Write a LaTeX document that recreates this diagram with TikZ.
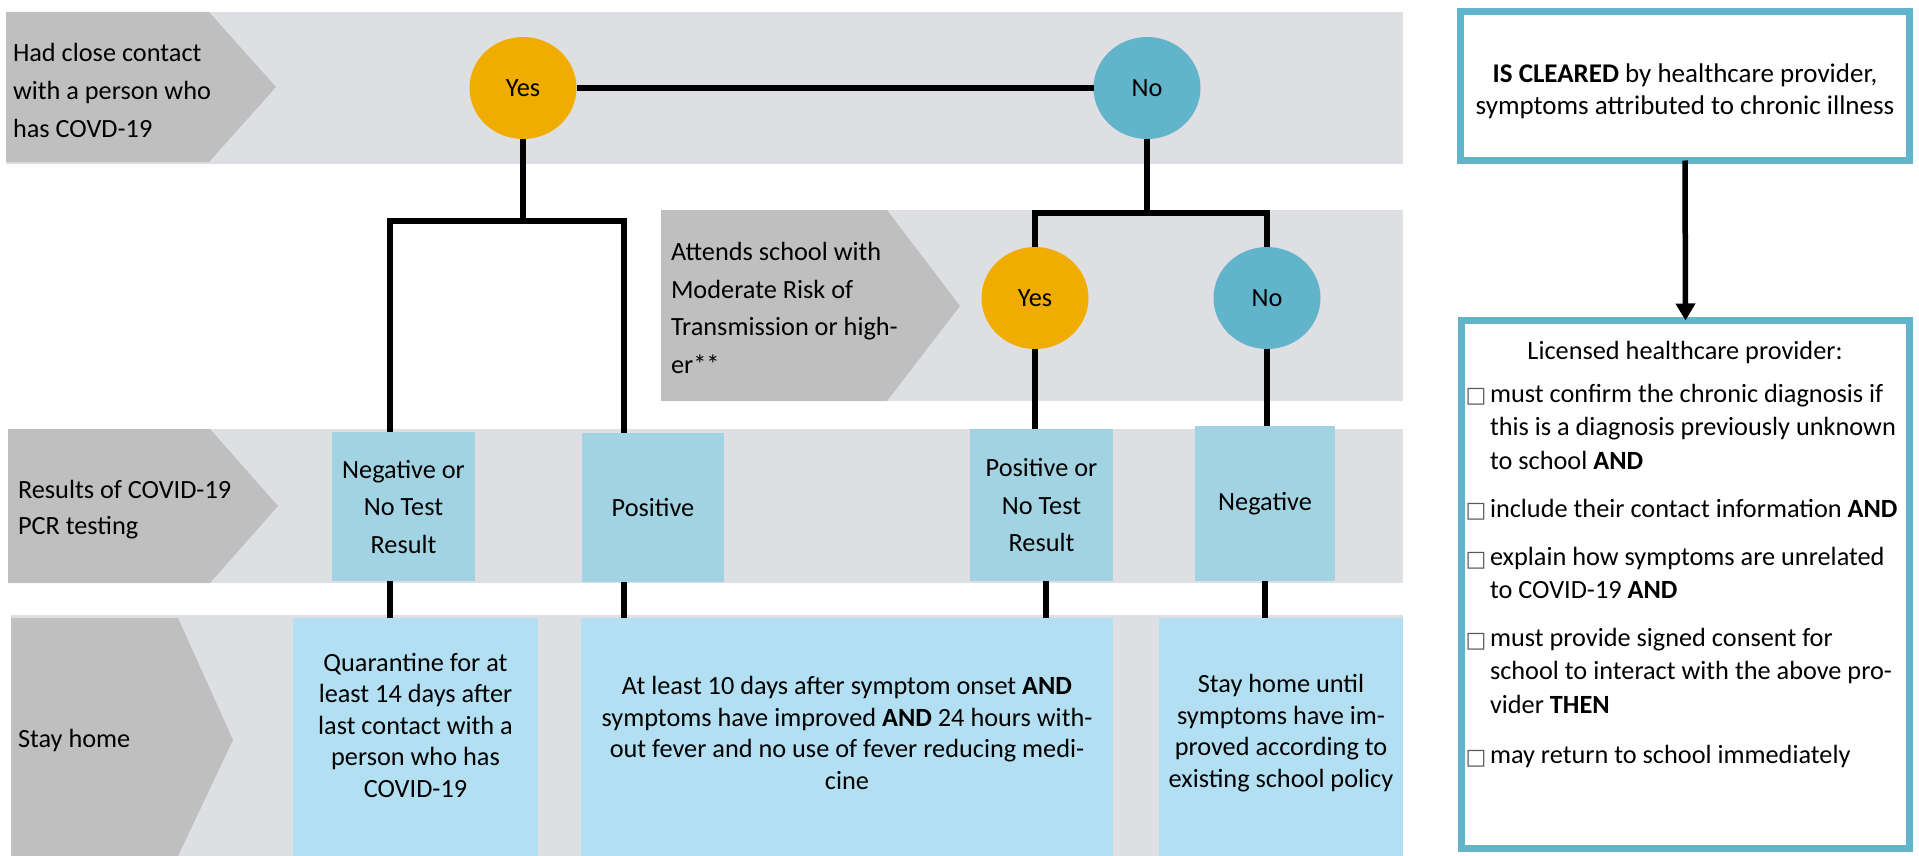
\documentclass[tikz,border=0pt]{standalone}
\usepackage{fontspec}
\setmainfont{Carlito}
\newfontfamily\symfont{DejaVu Sans}
\usetikzlibrary{shapes.geometric,arrows.meta}
\definecolor{bandgray}{HTML}{DEDFE3}
\definecolor{labgray}{HTML}{BFBFBF}
\definecolor{yesor}{HTML}{F0AD00}
\definecolor{noteal}{HTML}{62B4CB}
\definecolor{resblue}{HTML}{A2D3E2}
\definecolor{outblue}{HTML}{B2DFF1}
\newcommand{\fs}[1]{\fontsize{26.3}{#1}\selectfont}
\newcommand{\bx}{{\symfont\fontsize{22}{22}\selectfont\textcolor{black!65}{□}}}
\begin{document}
\begin{tikzpicture}[x=1pt,y=-1pt,
  every node/.style={font=\fs{31}, inner sep=0pt, outer sep=0pt},
  band/.style={fill=bandgray},
  lab/.style={fill=labgray},
  labtext/.style={anchor=west, align=left},
  yesnode/.style={ellipse, fill=yesor, minimum width=107, minimum height=102},
  nonode/.style={ellipse, fill=noteal, minimum width=107, minimum height=102},
  resbox/.style={fill=resblue, align=center, font=\fs{37.5}},
  outbox/.style={fill=outblue},
  outtext/.style={align=center, font=\fs{31.5}},
  conn/.style={line width=5.5pt},
  panel/.style={draw=noteal, line width=7pt, fill=white},
  itemtext/.style={anchor=north west, align=left, font=\fs{33.5}},
]
\useasboundingbox (0,0) rectangle (1919,856);

% bands
\fill[band] (6,12) rectangle (1403,164);
\fill[band] (661,210) rectangle (1403,401);
\fill[band] (8,429) rectangle (1403,583);
\fill[band] (11,615) rectangle (1403,856);

% row labels
\fill[lab] (6,12) -- (209,12) -- (276,87) -- (209,162) -- (6,162) -- cycle;
\fill[lab] (661,210) -- (887,210) -- (960,306) -- (887,401) -- (661,401) -- cycle;
\fill[lab] (8,429) -- (210,429) -- (278,506) -- (210,583) -- (8,583) -- cycle;
\fill[lab] (11,618) -- (178,618) -- (233,740) -- (178,856) -- (11,856) -- cycle;

\node[labtext, font=\fs{38}] (lab1) at (13,90) {Had close contact\\with a person who\\has COVD-19};
\node[labtext, font=\fs{37.7}] (lab2) at (671,308) {Attends school with\\Moderate Risk of\\Transmission or high-\\er**};
\node[labtext, font=\fs{36}] (lab3) at (18,510) {Results of COVID-19\\PCR testing};
\node[labtext] (lab4) at (18,740) {Stay home};

% decision circles
\node[yesnode] (yes1) at (523,88) {Yes};
\node[nonode] (no1) at (1147,88) {No};
\node[yesnode] (yes2) at (1035,298) {Yes};
\node[nonode] (no2) at (1267,298) {No};

% result boxes
\node[resbox, minimum width=143, minimum height=149] (r1) at (403.5,506.5) {Negative or\\No Test\\Result};
\node[resbox, minimum width=142, minimum height=149] (r2) at (653,507.5) {Positive};
\node[resbox, minimum width=143, minimum height=152] (r3) at (1041.5,505) {Positive or\\No Test\\Result};
\node[resbox, minimum width=140, minimum height=155] (r4) at (1265,503.5) {Negative};

% outcome boxes
\node[outbox, minimum width=245, minimum height=238] (o1) at (415.5,737) {};
\node[outbox, minimum width=532, minimum height=238] (o2) at (847,737) {};
\node[outbox, minimum width=244, minimum height=238] (o3) at (1281,737) {};
\node[outtext] (o1t) at (415.5,725) {Quarantine for at\\least 14 days after\\last contact with a\\person who has\\COVID-19};
\node[outtext] (o2t) at (847,733) {At least 10 days after symptom onset \textbf{AND}\\symptoms have improved \textbf{AND} 24 hours with-\\out fever and no use of fever reducing medi-\\cine};
\node[outtext] (o3t) at (1281,733) {Stay home until\\symptoms have im-\\proved according to\\existing school policy};

% connectors
\coordinate (bl) at (390,221);
\coordinate (br) at (624,221);
\coordinate (nb) at (1035,213);
\coordinate (c3) at (1046,0);
\coordinate (c4) at (1265,0);
\draw[conn] (yes1.east) -- (no1.west);
\draw[conn] (yes1.south) -- (yes1.south |- bl);
\draw[conn] (r1.north -| bl) -- (bl) -- (br) -- (r2.north -| br);
\draw[conn] (no1.south) -- (no1.south |- nb);
\draw[conn] (yes2.north) -- (yes2.north |- nb) -- (no2.north |- nb) -- (no2.north);
\draw[conn] (yes2.south) -- (yes2.south |- r3.north);
\draw[conn] (no2.south) -- (no2.south |- r4.north);
\draw[conn] (r1.south -| bl) -- (o1.north -| bl);
\draw[conn] (r2.south -| br) -- (o2.north -| br);
\draw[conn] (r3.south -| c3) -- (o2.north -| c3);
\draw[conn] (r4.south -| c4) -- (o3.north -| c4);

% right panel
\node[panel, minimum width=449, minimum height=149] (t) at (1685,86) {};
\node[align=center, font=\fontsize{27}{32}\selectfont] (tt) at (1685,91) {\textbf{IS CLEARED} by healthcare provider,\\symptoms attributed to chronic illness};
\node[panel, minimum width=448, minimum height=528] (b) at (1685.5,584.5) {};
\draw[conn, -{Triangle[width=19pt,length=17pt]}] (t.south) -- (b.north);

\node (lhp) at (1685,352) {Licensed healthcare provider:};
\node (bx1) at (1476,397) {\bx};
\node (bx2) at (1476,512) {\bx};
\node (bx3) at (1476,561) {\bx};
\node (bx4) at (1476,642) {\bx};
\node (bx5) at (1476,759) {\bx};
\node[itemtext] (it1) at (1490,384) {must confirm the chronic diagnosis if\\this is a diagnosis previously unknown\\to school \textbf{AND}};
\node[itemtext] (it2) at (1490,499) {include their contact information \textbf{AND}};
\node[itemtext] (it3) at (1490,547) {explain how symptoms are unrelated\\to COVID-19 \textbf{AND}};
\node[itemtext] (it4) at (1490,628) {must provide signed consent for\\school to interact with the above pro-\\vider \textbf{THEN}};
\node[itemtext] (it5) at (1490,745) {may return to school immediately};
\end{tikzpicture}
\end{document}
